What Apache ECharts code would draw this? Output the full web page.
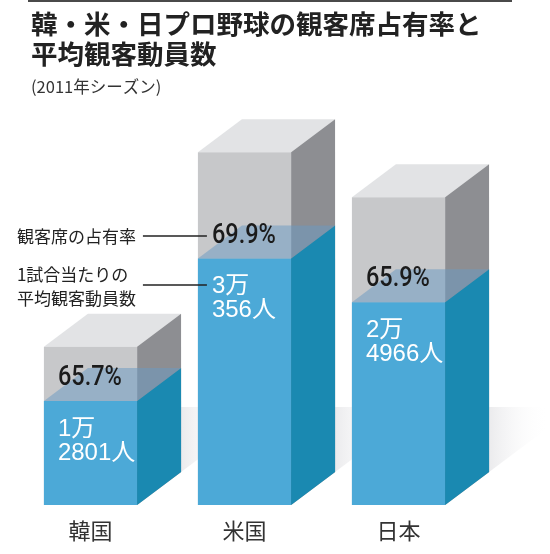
<!DOCTYPE html>
<html>
<head>
<meta charset="utf-8">
<script src="https://cdn.jsdelivr.net/npm/echarts@6/dist/echarts.min.js"></script>
<style>html,body{margin:0;padding:0;background:#fff;}#c{width:550px;height:554px;}</style>
</head>
<body>
<div id="c"></div>
<script>
// ---- data ----
const categories = ['韓国', '米国', '日本'];
const attendance = [12801, 30356, 24966];     // 1試合当たりの平均観客動員数
const occupancyRate = [65.7, 69.9, 65.9];      // 観客席の占有率 (%)
const seatCapacity = [19484, 43428, 37885];    // 座席数（灰色の箱の高さ）
const annotateIndex = 1;                       // 注記を付ける棒

const chart = echarts.init(document.getElementById('c'), null, {renderer: 'canvas'});

const DX = 44, DY = -33;
const numFont = 'Roboto, "Liberation Sans", sans-serif';
const jpFont = '"Noto Sans CJK JP", sans-serif';

function fmtPeople(v) {
  const man = Math.floor(v / 10000);
  const rest = v % 10000;
  return man + '万\n' + rest + '人';
}

function renderItem(params, api) {
  const i = api.value(0);
  const cap = api.value(1);
  const att = api.value(2);
  const rate = api.value(3);
  const base = api.coord([i, 0]);
  const top = api.coord([i, cap]);
  const lvl = api.coord([i, att]);
  const w = api.size([1, 0])[0] * 0.605;
  const x0 = base[0] - w / 2, x1 = base[0] + w / 2;
  const yb = base[1], yt = top[1], yw = lvl[1];
  const children = [];
  // faint floor shadow
  children.push({
    type: 'polygon',
    shape: {points: [[x1 + DX, yb + DY - 65], [x1 + DX + 60, yb + DY - 65], [x1 + DX + 60, yb + DY - 45], [x1 + DX, yb + DY]]},
    style: {fill: new echarts.graphic.LinearGradient(0, 0, 1, 0, [
      {offset: 0, color: '#ebebed'}, {offset: 1, color: 'rgba(255,255,255,0)'}])}
  });
  // gray box (capacity)
  children.push({type: 'polygon', shape: {points: [[x0, yt], [x1, yt], [x1 + DX, yt + DY], [x0 + DX, yt + DY]]}, style: {fill: '#e2e3e5'}});
  children.push({type: 'polygon', shape: {points: [[x1, yt], [x1 + DX, yt + DY], [x1 + DX, yb + DY], [x1, yb]]}, style: {fill: '#8d8e92'}});
  children.push({type: 'rect', shape: {x: x0, y: yt, width: w, height: yb - yt}, style: {fill: '#c7c8ca'}});
  // blue volume (attendance)
  children.push({type: 'rect', shape: {x: x0, y: yw, width: w, height: yb - yw}, style: {fill: '#4ca9d7'}});
  children.push({type: 'polygon', shape: {points: [[x1, yw], [x1 + DX, yw + DY], [x1 + DX, yb + DY], [x1, yb]]}, style: {fill: '#1a89b1'}});
  children.push({type: 'polygon', shape: {points: [[x0, yw], [x1, yw], [x1 + DX, yw + DY], [x0 + DX, yw + DY]]}, style: {fill: 'rgba(107,154,194,0.52)'}});
  // texts
  children.push({type: 'text', x: x0 + 14, y: yw - 23, scaleX: 0.84,
    style: {x: 0, y: 0, text: rate.toFixed(1) + '%', fill: '#1b1b1b',
      font: '500 28px ' + numFont, verticalAlign: 'middle', align: 'left'}});
  children.push({type: 'text', style: {x: x0 + 14, y: yw + 16, text: fmtPeople(att), fill: '#ffffff',
    font: '24px "Liberation Sans", "Noto Sans CJK JP", sans-serif', lineHeight: 24, verticalAlign: 'top', align: 'left'}});
  if (params.dataIndex === annotateIndex) {
    children.push({type: 'line', shape: {x1: x0 - 55, y1: yw - 22.5, x2: x0 + 9, y2: yw - 22.5}, style: {stroke: '#222', lineWidth: 1.5}});
    children.push({type: 'line', shape: {x1: x0 - 55, y1: yw + 26.5, x2: x0 + 9, y2: yw + 26.5}, style: {stroke: '#222', lineWidth: 1.5}});
    children.push({type: 'text', style: {x: x0 - 181, y: yw - 22, text: '観客席の占有率', fill: '#222',
      font: '17px ' + jpFont, verticalAlign: 'middle', align: 'left'}});
    children.push({type: 'text', style: {x: x0 - 181, y: yw + 4, text: '1試合当たりの\n平均観客動員数', fill: '#222',
      font: '17px ' + jpFont, lineHeight: 24, verticalAlign: 'top', align: 'left'}});
  }
  return {type: 'group', children: children};
}

const seriesData = categories.map((c, i) => [i, seatCapacity[i], attendance[i], occupancyRate[i]]);

chart.setOption({
  animation: false,
  backgroundColor: '#ffffff',
  title: {
    text: '韓・米・日プロ野球の観客席占有率と\n平均観客動員数',
    subtext: '(2011年シーズン)',
    left: 31, top: 9, padding: 0, itemGap: 8,
    textStyle: {fontSize: 26.5, lineHeight: 30, fontWeight: 'bold', color: '#222', fontFamily: 'Noto Sans CJK JP'},
    subtextStyle: {fontSize: 16.5, lineHeight: 20, color: '#333', fontFamily: 'Noto Sans CJK JP'}
  },
  graphic: [{type: 'rect', left: 28, top: 0, shape: {width: 484, height: 2}, style: {fill: '#4a4a4a'}}],
  grid: {left: 13.5, right: 74.5, top: 99, bottom: 49},
  xAxis: {
    type: 'category', data: categories,
    axisLine: {show: false}, axisTick: {show: false},
    axisLabel: {fontSize: 22, color: '#333', margin: 15, fontFamily: 'Noto Sans CJK JP'}
  },
  yAxis: {type: 'value', min: 0, max: 50000, show: false, splitLine: {show: false}},
  series: [{
    type: 'custom',
    renderItem: renderItem,
    encode: {x: 0, y: 1},
    data: seriesData,
    clip: false
  }]
});
</script>
</body>
</html>
